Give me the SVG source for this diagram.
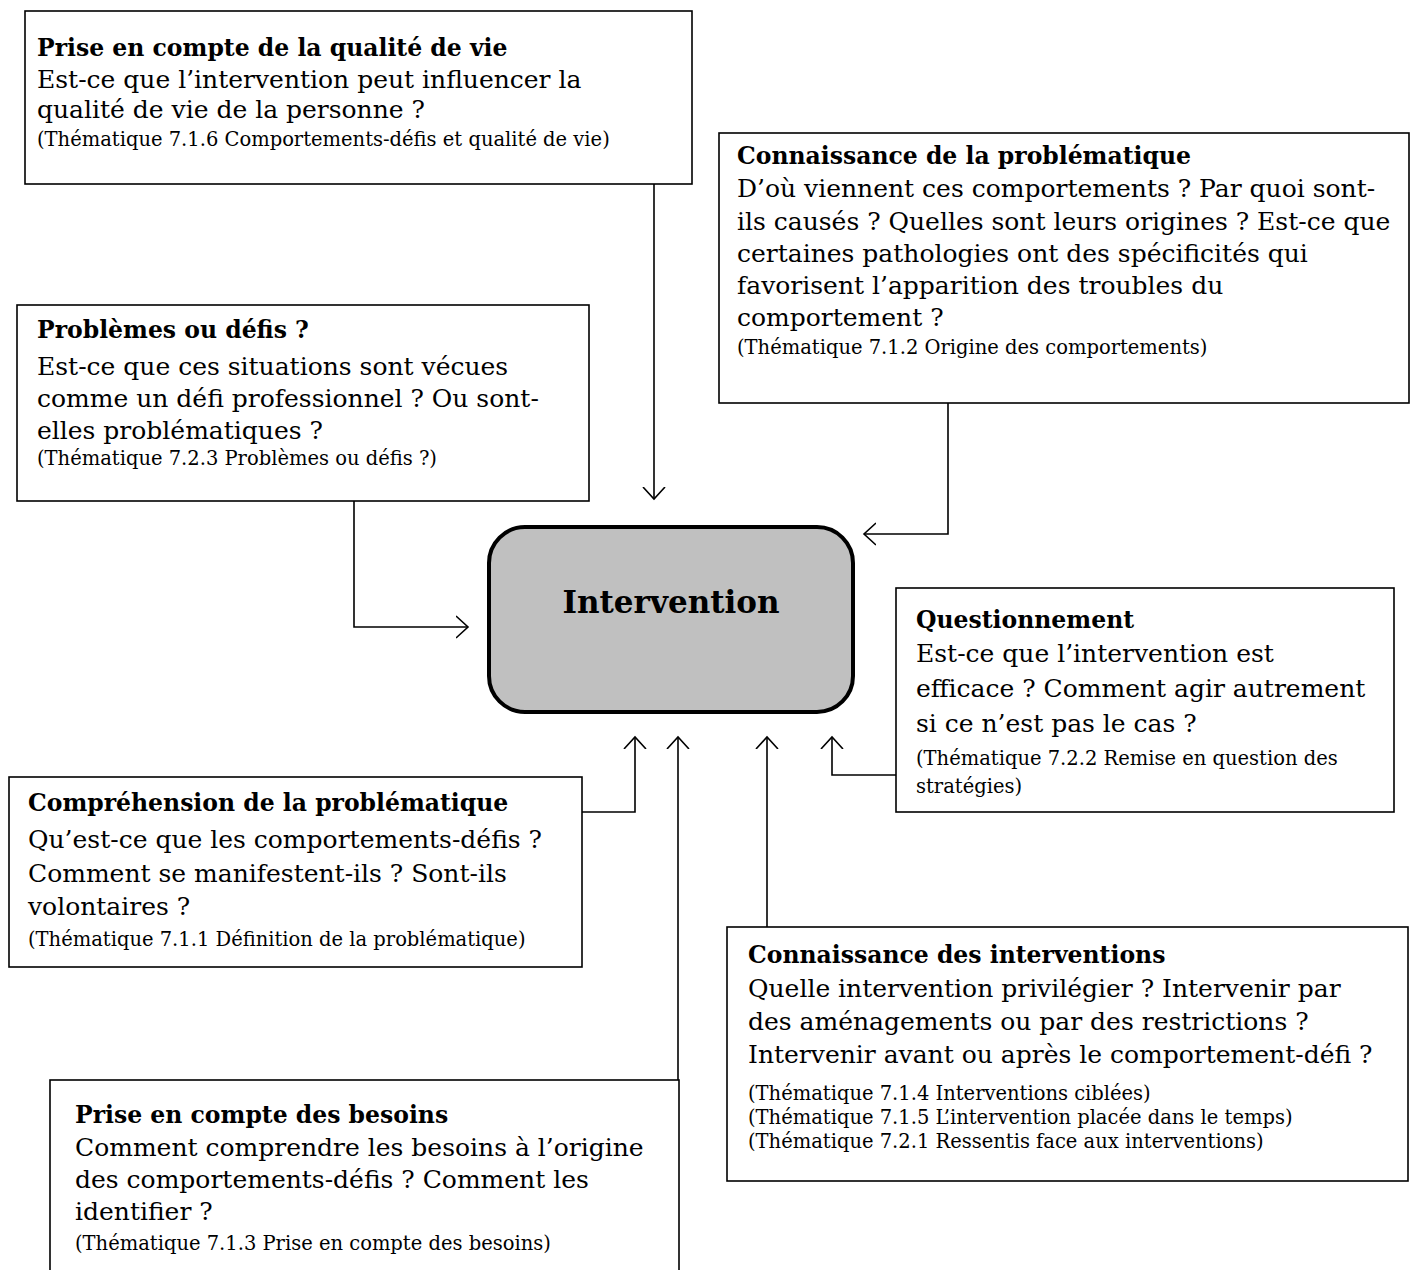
<svg xmlns="http://www.w3.org/2000/svg" width="1418" height="1270" viewBox="0 0 1418 1270">
<defs>
<style>
.box{fill:#fff;stroke:#000;stroke-width:1.6}
.t{font-family:"DejaVu Serif","Liberation Serif",serif;font-size:23.5px;font-weight:bold;fill:#000}
.b{font-family:"DejaVu Serif","Liberation Serif",serif;font-size:25px;fill:#000}
.s{font-family:"DejaVu Serif","Liberation Serif",serif;font-size:19.5px;fill:#000}
.c{fill:none;stroke:#000;stroke-width:1.6}
</style>
<marker id="ah" markerWidth="14" markerHeight="24" refX="12" refY="12" orient="auto" markerUnits="userSpaceOnUse">
<path d="M0,1 L12,12 L0,23" fill="none" stroke="#000" stroke-width="1.6"/>
</marker>
</defs>
<rect width="1418" height="1270" fill="#fff"/>
<g id="connectors">
<path class="c" d="M654,184 V499" marker-end="url(#ah)"/>
<path class="c" d="M948,403 V534 H864" marker-end="url(#ah)"/>
<path class="c" d="M354,501 V627 H468" marker-end="url(#ah)"/>
<path class="c" d="M896,775 H832 V737" marker-end="url(#ah)"/>
<path class="c" d="M582,812 H635 V737" marker-end="url(#ah)"/>
<path class="c" d="M678,1080 V737" marker-end="url(#ah)"/>
<path class="c" d="M767,927 V737" marker-end="url(#ah)"/>
</g>
<g id="intervention">
<rect x="489" y="527" width="364" height="185" rx="36" fill="#c0c0c0" stroke="#000" stroke-width="4"/>
<text x="671" y="613" text-anchor="middle" font-family="DejaVu Serif, Liberation Serif, serif" font-size="31" font-weight="bold">Intervention</text>
</g>
<g id="qualite-de-vie">
<rect class="box" x="25" y="11" width="667" height="173"/>
<text class="t" x="37" y="56">Prise en compte de la qualité de vie</text>
<text class="b" x="37" y="88">Est-ce que l’intervention peut influencer la</text>
<text class="b" x="37" y="118">qualité de vie de la personne ?</text>
<text class="s" x="37" y="146">(Thématique 7.1.6 Comportements-défis et qualité de vie)</text>
</g>
<g id="connaissance-problematique">
<rect class="box" x="719" y="133" width="690" height="270"/>
<text class="t" x="737" y="164">Connaissance de la problématique</text>
<text class="b" x="737" y="197">D’où viennent ces comportements ? Par quoi sont-</text>
<text class="b" x="737" y="230">ils causés ? Quelles sont leurs origines ? Est-ce que</text>
<text class="b" x="737" y="262">certaines pathologies ont des spécificités qui</text>
<text class="b" x="737" y="294">favorisent l’apparition des troubles du</text>
<text class="b" x="737" y="326">comportement ?</text>
<text class="s" x="737" y="354">(Thématique 7.1.2 Origine des comportements)</text>
</g>
<g id="problemes-defis">
<rect class="box" x="17" y="305" width="572" height="196"/>
<text class="t" x="37" y="338">Problèmes ou défis ?</text>
<text class="b" x="37" y="375">Est-ce que ces situations sont vécues</text>
<text class="b" x="37" y="407">comme un défi professionnel ? Ou sont-</text>
<text class="b" x="37" y="439">elles problématiques ?</text>
<text class="s" x="37" y="465">(Thématique 7.2.3 Problèmes ou défis ?)</text>
</g>
<g id="questionnement">
<rect class="box" x="896" y="588" width="498" height="224"/>
<text class="t" x="916" y="628">Questionnement</text>
<text class="b" x="916" y="662">Est-ce que l’intervention est</text>
<text class="b" x="916" y="697">efficace ? Comment agir autrement</text>
<text class="b" x="916" y="732">si ce n’est pas le cas ?</text>
<text class="s" x="916" y="765">(Thématique 7.2.2 Remise en question des</text>
<text class="s" x="916" y="793">stratégies)</text>
</g>
<g id="comprehension-problematique">
<rect class="box" x="9" y="777" width="573" height="190"/>
<text class="t" x="28" y="811">Compréhension de la problématique</text>
<text class="b" x="28" y="848">Qu’est-ce que les comportements-défis ?</text>
<text class="b" x="28" y="882">Comment se manifestent-ils ? Sont-ils</text>
<text class="b" x="28" y="915">volontaires ?</text>
<text class="s" x="28" y="946">(Thématique 7.1.1 Définition de la problématique)</text>
</g>
<g id="besoins">
<rect class="box" x="50" y="1080" width="629" height="200"/>
<text class="t" x="75" y="1123">Prise en compte des besoins</text>
<text class="b" x="75" y="1156">Comment comprendre les besoins à l’origine</text>
<text class="b" x="75" y="1188">des comportements-défis ? Comment les</text>
<text class="b" x="75" y="1220">identifier ?</text>
<text class="s" x="75" y="1250">(Thématique 7.1.3 Prise en compte des besoins)</text>
</g>
<g id="connaissance-interventions">
<rect class="box" x="727" y="927" width="681" height="254"/>
<text class="t" x="748" y="963">Connaissance des interventions</text>
<text class="b" x="748" y="997">Quelle intervention privilégier ? Intervenir par</text>
<text class="b" x="748" y="1030">des aménagements ou par des restrictions ?</text>
<text class="b" x="748" y="1063">Intervenir avant ou après le comportement-défi ?</text>
<text class="s" x="748" y="1100">(Thématique 7.1.4 Interventions ciblées)</text>
<text class="s" x="748" y="1124">(Thématique 7.1.5 L’intervention placée dans le temps)</text>
<text class="s" x="748" y="1148">(Thématique 7.2.1 Ressentis face aux interventions)</text>
</g>
</svg>
